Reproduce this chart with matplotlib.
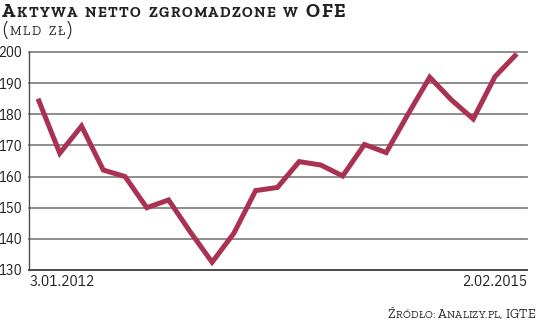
import matplotlib
matplotlib.use('Agg')
import matplotlib.pyplot as plt
from matplotlib.transforms import IdentityTransform

values = [185.0, 167.5, 176.2, 162.1, 160.0, 150.0, 152.5, 142.2, 132.5, 141.8,
          155.5, 156.5, 164.8, 163.7, 160.2, 170.3, 167.7, 180.0, 191.9, 184.6,
          178.5, 192.1, 199.4]
y_ticks = [130, 140, 150, 160, 170, 180, 190, 200]
start_label = '3.01.2012'
end_label = '2.02.2015'
title = 'Aktywa netto zgromadzone w OFE'
unit = '(mld zł)'
source = 'Źródło: Analizy.pl, IGTE'

RED = '#a93152'
GRID = '#858585'
AXIS = '#4d4d4d'
TEXT = '#222222'
NARROW = ['IBM Plex Sans Condensed', 'Liberation Sans', 'DejaVu Sans']
SLAB = ['Roboto Slab', 'Zilla Slab', 'Aleo', 'DejaVu Serif']

W, H = 536, 321
fig = plt.figure(figsize=(W / 100, H / 100), dpi=100)
fig.patch.set_facecolor('white')

ax = fig.add_axes([28.5 / W, (H - 270) / H, (527 - 28.5) / W, 218 / H])
ax.plot(range(len(values)), values, color=RED, lw=3.6,
        solid_joinstyle='miter', solid_capstyle='butt', zorder=3)
ax.set_xlim(-0.437, 22.47)
ax.set_ylim(130, 200)
ax.set_xticks([])
ax.set_yticks(y_ticks)
ax.tick_params(axis='y', length=0, pad=4.5, labelsize=10.5, labelcolor=TEXT)
for lab in ax.get_yticklabels():
    lab.set_family(NARROW)
ax.grid(axis='y', color=GRID, lw=1.3)
for gl in ax.get_ygridlines():
    gl.set_clip_on(False)
ax.set_axisbelow(True)
for side in ('top', 'right'):
    ax.spines[side].set_visible(False)
ax.spines['left'].set_color(AXIS)
ax.spines['left'].set_linewidth(1.0)
ax.spines['bottom'].set_color(AXIS)
ax.spines['bottom'].set_linewidth(1.4)

ax.annotate(start_label, xy=(0, 0), xycoords='axes fraction', xytext=(1.0, -3.5),
            textcoords='offset points', ha='left', va='top', fontsize=11,
            family=NARROW, color=TEXT)
ax.annotate(end_label, xy=(1, 0), xycoords='axes fraction', xytext=(0, -3.5),
            textcoords='offset points', ha='right', va='top', fontsize=11,
            family=NARROW, color=TEXT)


def small_caps(x0, x1, y, s, big, small, weight='normal'):
    # fake small caps, spread with tracking so the line runs from x0 to x1
    r = fig.canvas.get_renderer()
    items = []
    for ch in s:
        if ch == ' ':
            items.append((None, small * 0.45))
            continue
        size = big if (ch.isupper() or ch in '()') else small
        txt = fig.text(0, y, ch.upper(), fontsize=size, family=SLAB,
                       weight=weight, color=TEXT, va='baseline',
                       transform=IdentityTransform())
        items.append((txt, txt.get_window_extent(r).width))
    natural = sum(w for _, w in items)
    gaps = len(items) - 1
    track = (x1 - x0 - natural) / gaps
    pos = x0
    for txt, w in items:
        if txt is not None:
            txt.set_x(pos)
        pos += w + track


small_caps(2, 345, H - 16.7, title, 14.0, 10.8, weight='heavy')
small_caps(2, 72, H - 35, unit, 13.5, 9.4)
small_caps(388, 535, H - 318, source, 9.6, 7.8)

fig.savefig('out.png', dpi=100, facecolor='white')
